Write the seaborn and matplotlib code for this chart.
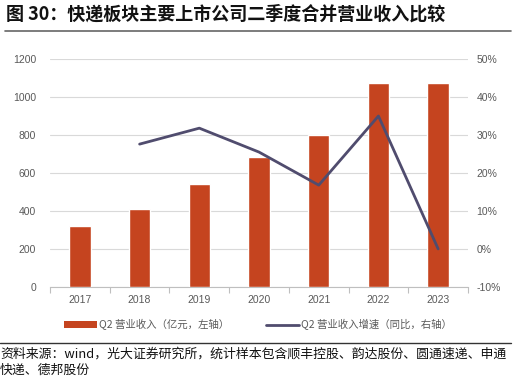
import matplotlib
matplotlib.use("Agg")
import matplotlib.pyplot as plt
import seaborn as sns
import pandas as pd
import numpy as np
from matplotlib.lines import Line2D
from matplotlib.patches import Patch

years = ["2017", "2018", "2019", "2020", "2021", "2022", "2023"]
revenue = [321, 410, 542, 684, 800, 1074, 1074]
growth = [np.nan, 27.6, 31.8, 25.5, 16.8, 35.0, 0.0]

title = "图 30：快递板块主要上市公司二季度合并营业收入比较"
source = "资料来源：wind，光大证券研究所，统计样本包含顺丰控股、韵达股份、圆通速递、申通\n快递、德邦股份"
bar_label = "Q2 营业收入（亿元，左轴）"
line_label = "Q2 营业收入增速（同比，右轴）"

bar_color = "#C5441F"
line_color = "#504C6E"
tick_color = "#595959"

sns.set_theme(style="white")
plt.rcParams["font.family"] = ["Noto Sans CJK SC", "DejaVu Sans"]
num_font = "Liberation Sans"

df = pd.DataFrame({"year": years, "revenue": revenue, "growth": growth})
df["pos"] = range(len(df))

fig = plt.figure(figsize=(5.16, 3.81), dpi=100)
ax = fig.add_axes([0.097, 0.247, 0.810, 0.598])

sns.barplot(data=df, x="year", y="revenue", color=bar_color, width=0.36,
            saturation=1, ax=ax, zorder=3)
ax.set_ylim(0, 1200)
ax.set_yticks(range(0, 1201, 200))
ax.set_xlim(-0.5, len(years) - 0.5)
ax.set_xlabel("")
ax.set_ylabel("")
ax.grid(axis="y", color="#D9D9D9", linewidth=0.8, zorder=0)
ax.set_axisbelow(True)
for s in ["top", "right", "left"]:
    ax.spines[s].set_visible(False)
ax.spines["bottom"].set_color("#BFBFBF")
ax.spines["bottom"].set_linewidth(0.8)
ax.tick_params(axis="y", length=0, labelsize=7.5, labelcolor=tick_color, pad=10,
               labelfontfamily=num_font)
ax.tick_params(axis="x", length=0, labelsize=7.5, labelcolor=tick_color, pad=6,
               labelfontfamily=num_font)
# small ticks between categories
ax.set_xticks(np.arange(-0.5, len(years)), minor=True)
ax.tick_params(axis="x", which="minor", length=4, color="#BFBFBF", width=0.8, bottom=True)

ax2 = ax.twinx()
sns.lineplot(data=df, x="pos", y="growth", color=line_color, linewidth=2.0, ax=ax2, zorder=4)
ax2.set_ylim(-10, 50)
ax2.set_yticks(range(-10, 51, 10))
ax2.set_yticklabels([f"{v}%" for v in range(-10, 51, 10)])
ax2.set_xlim(-0.5, len(years) - 0.5)
ax2.set_ylabel("")
ax2.set_xlabel("")
for s in ax2.spines.values():
    s.set_visible(False)
ax2.tick_params(axis="y", length=0, labelsize=7.5, labelcolor=tick_color, pad=6,
                labelfontfamily=num_font)

handles = [Patch(facecolor=bar_color, edgecolor="none"),
           Line2D([0], [0], color=line_color, linewidth=2.0)]
fig.legend(handles, [bar_label, line_label], loc="center", bbox_to_anchor=(0.5, 0.148),
           ncol=2, frameon=False, fontsize=7.5, labelcolor=tick_color,
           handlelength=3.2, handleheight=0.6, columnspacing=3.5, handletextpad=0.2)

fig.text(0.012, 0.963, title, fontsize=13, fontweight="bold", color="#111111", va="center")
fig.add_artist(Line2D([0.01, 0.99], [0.918, 0.918], color="#666666", linewidth=1.2))
fig.add_artist(Line2D([0.0, 0.99], [0.10, 0.10], color="#333333", linewidth=1.0))
fig.text(0.0, 0.088, source, fontsize=9.3, color="#111111", va="top", linespacing=1.35)

fig.savefig("out.png", dpi=100)
